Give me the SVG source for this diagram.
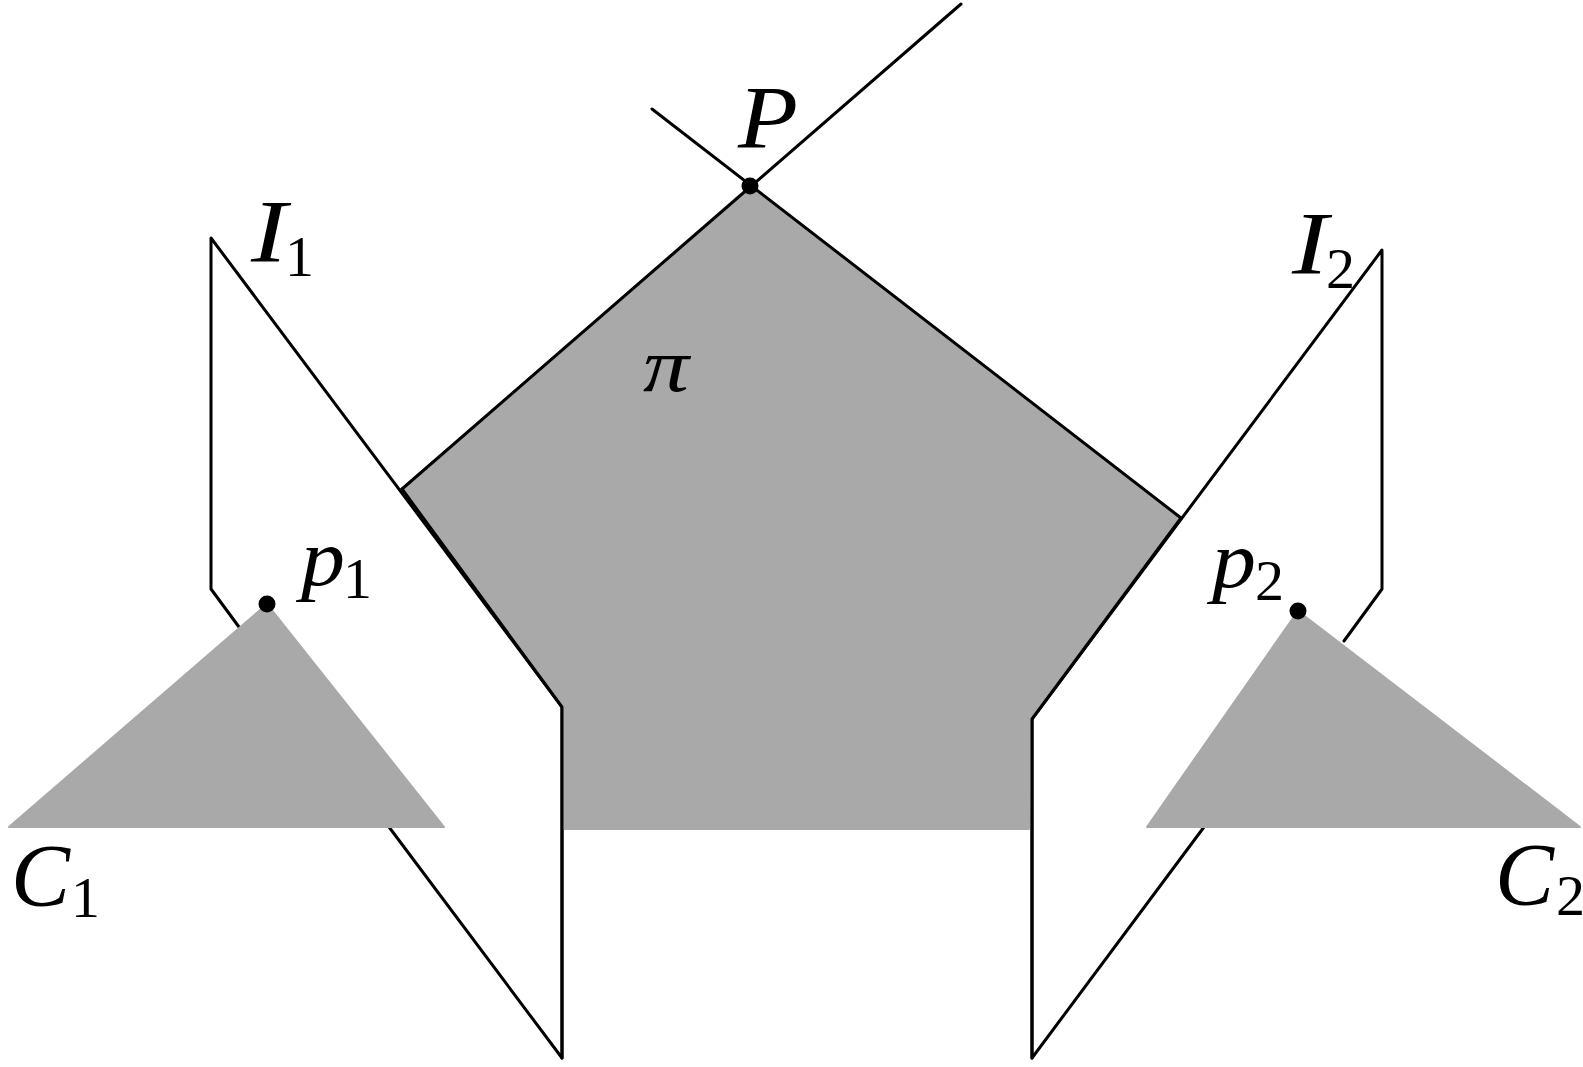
<svg xmlns="http://www.w3.org/2000/svg" width="1583" height="1067" viewBox="0 0 1583 1067">
<style>
.l{fill:none;stroke:#000;stroke-width:3;stroke-linejoin:round;stroke-linecap:round}
.g{fill:#a9a9a9;stroke:#a9a9a9;stroke-width:2;stroke-linejoin:round}
.m{font-family:"Liberation Serif","Times New Roman",serif;font-style:italic;font-size:88px;fill:#000}
.p{font-size:80px}
.s{font-family:"Liberation Serif","Times New Roman",serif;font-size:58px;fill:#000}
.d{fill:#000}
</style>
<rect width="1583" height="1067" fill="#fff"/>
<g id="connectors">
<path class="l" d="M239 627L211 589V238L562 707V1058L389 827"/>
<path class="l" d="M1344 641L1382 589V250L1032 719V1058L1204 827"/>
</g>
<g id="plane-pi">
<path class="g" d="M402 489L750 186L1181 518L1032 719L1029 829H564V707Z"/>
<path class="l" d="M652 109L1181 518M961 4L402 489"/>
<path class="l" d="M402 489L562 707V1058M1181 518L1032 719V1058"/>
<text class="m" style="font-size:76px" x="643" y="391" textLength="46" lengthAdjust="spacingAndGlyphs">π</text>
</g>
<g id="node-C1">
<path class="g" d="M267 604L444 827H9Z"/>
<text class="m" x="11" y="905" textLength="59" lengthAdjust="spacingAndGlyphs">C</text>
<text class="s" x="71" y="917">1</text>
</g>
<g id="node-C2">
<path class="g" d="M1298 611L1580 827H1147Z"/>
<text class="m" x="1495" y="904" textLength="59" lengthAdjust="spacingAndGlyphs">C</text>
<text class="s" x="1556" y="915">2</text>
</g>
<g id="node-P">
<circle class="d" cx="750" cy="186" r="8.5"/>
<text class="m" x="738" y="147" textLength="60" lengthAdjust="spacingAndGlyphs">P</text>
</g>
<g id="node-p1">
<circle class="d" cx="267" cy="604" r="8.5"/>
<text class="m p" x="301" y="585" textLength="44" lengthAdjust="spacingAndGlyphs">p</text>
<text class="s" x="343" y="598">1</text>
</g>
<g id="node-p2">
<circle class="d" cx="1298" cy="611" r="8.5"/>
<text class="m p" x="1212" y="587" textLength="44" lengthAdjust="spacingAndGlyphs">p</text>
<text class="s" x="1255" y="600">2</text>
</g>
<g id="node-I1">
<text class="m" x="251" y="261" textLength="36" lengthAdjust="spacingAndGlyphs">I</text>
<text class="s" x="285" y="276">1</text>
</g>
<g id="node-I2">
<text class="m" x="1292" y="273" textLength="36" lengthAdjust="spacingAndGlyphs">I</text>
<text class="s" x="1326" y="288">2</text>
</g>
</svg>
